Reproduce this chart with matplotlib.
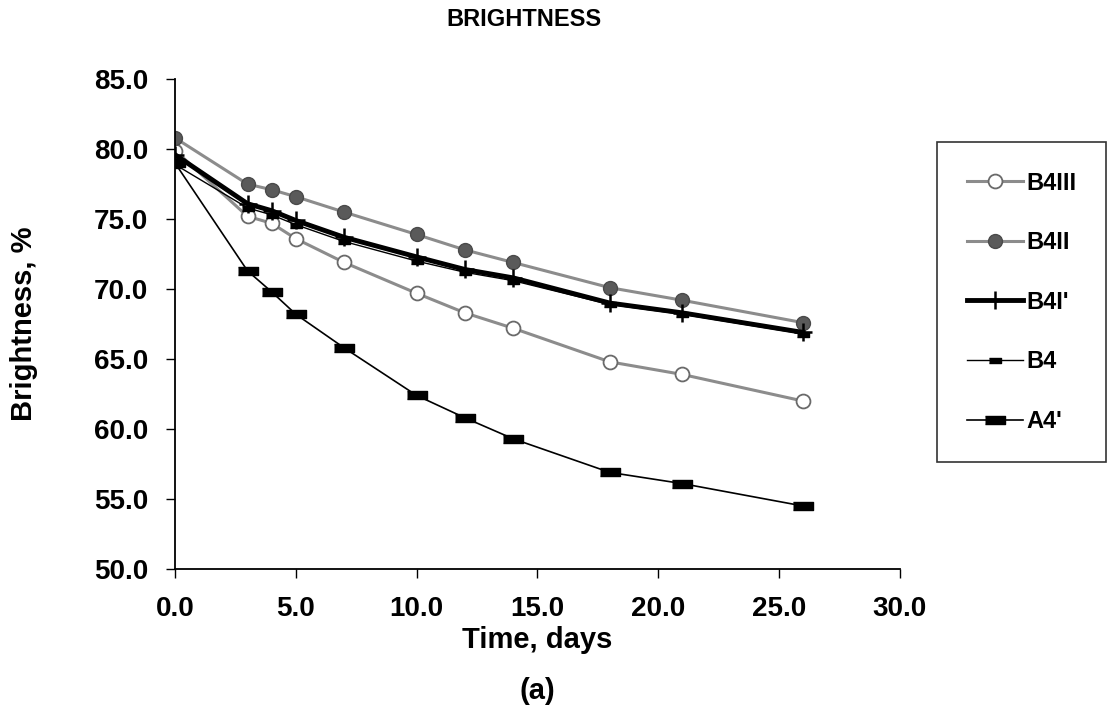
import numpy as np
import matplotlib
matplotlib.use('Agg')
import matplotlib.pyplot as plt
from matplotlib.ticker import MultipleLocator, FormatStrFormatter

plt.rcParams['font.family'] = ['Liberation Sans', 'DejaVu Sans']
plt.rcParams['font.weight'] = 'bold'

days = [0, 3, 4, 5, 7, 10, 12, 14, 18, 21, 26]
b4iii = [79.9, 75.2, 74.7, 73.6, 71.9, 69.7, 68.3, 67.2, 64.8, 63.9, 62.0]
b4ii = [80.8, 77.5, 77.1, 76.6, 75.5, 73.9, 72.8, 71.9, 70.1, 69.2, 67.6]
b4i = [79.6, 76.1, 75.6, 74.9, 73.7, 72.3, 71.4, 70.8, 69.0, 68.3, 66.9]
b4 = [78.9, 75.8, 75.3, 74.6, 73.4, 72.0, 71.2, 70.6, 68.9, 68.2, 66.8]
a4 = [79.0, 71.3, 69.8, 68.2, 65.8, 62.4, 60.8, 59.3, 56.9, 56.1, 54.5]

dash_small = [(-1, -0.45), (1, -0.45), (1, 0.45), (-1, 0.45)]
dash_big = [(-1, -0.4), (1, -0.4), (1, 0.4), (-1, 0.4)]

fig = plt.figure(figsize=(11.08, 7.13), dpi=100)
ax = fig.add_axes([0.158, 0.202, 0.654, 0.687])

ax.plot(days, b4iii, color='#8c8c8c', lw=2.2, marker='o', ms=10,
        mfc='white', mec='#6a6a6a', mew=1.3, label='B4III')
ax.plot(days, b4ii, color='#8c8c8c', lw=2.2, marker='o', ms=10,
        mfc='#5a5a5a', mec='#4a4a4a', label='B4II')
ax.plot(days, b4i, color='black', lw=3.5, marker='+', ms=13, mew=1.8,
        label="B4I'")
ax.plot(days, b4, color='black', lw=1, marker=dash_small, ms=8,
        label='B4')
ax.plot(days, a4, color='black', lw=1.2, marker=dash_big, ms=15,
        label="A4'")

ax.set_xlim(0, 30)
ax.set_ylim(50, 85)
ax.xaxis.set_major_locator(MultipleLocator(5))
ax.yaxis.set_major_locator(MultipleLocator(5))
ax.xaxis.set_major_formatter(FormatStrFormatter('%.1f'))
ax.yaxis.set_major_formatter(FormatStrFormatter('%.1f'))
ax.tick_params(axis='both', direction='out', length=6.5, width=1,
               labelsize=20, pad=13)
for s in ['top', 'right']:
    ax.spines[s].set_visible(False)
for s in ['left', 'bottom']:
    ax.spines[s].set_linewidth(1.3)

ax.set_ylabel('Brightness, %', fontsize=21, fontweight='bold', labelpad=40)
fig.text(0.485, 0.102, 'Time, days', fontsize=21, fontweight='bold',
         ha='center', va='center')
fig.text(0.485, 0.031, '(a)', fontsize=21, fontweight='bold',
         ha='center', va='center')
fig.text(0.473, 0.973, 'BRIGHTNESS', fontsize=17, fontweight='bold',
         ha='center', va='center')

leg = ax.legend(loc='upper left', bbox_to_anchor=(937 / 1108, 1 - 142 / 713),
                bbox_transform=fig.transFigure, fontsize=17, frameon=True,
                fancybox=False, edgecolor='black', labelspacing=1.55,
                handlelength=2.4, handletextpad=0.15, borderpad=1.25,
                borderaxespad=0)
leg.get_frame().set_linewidth(1.2)

fig.savefig('out.png', dpi=100)
